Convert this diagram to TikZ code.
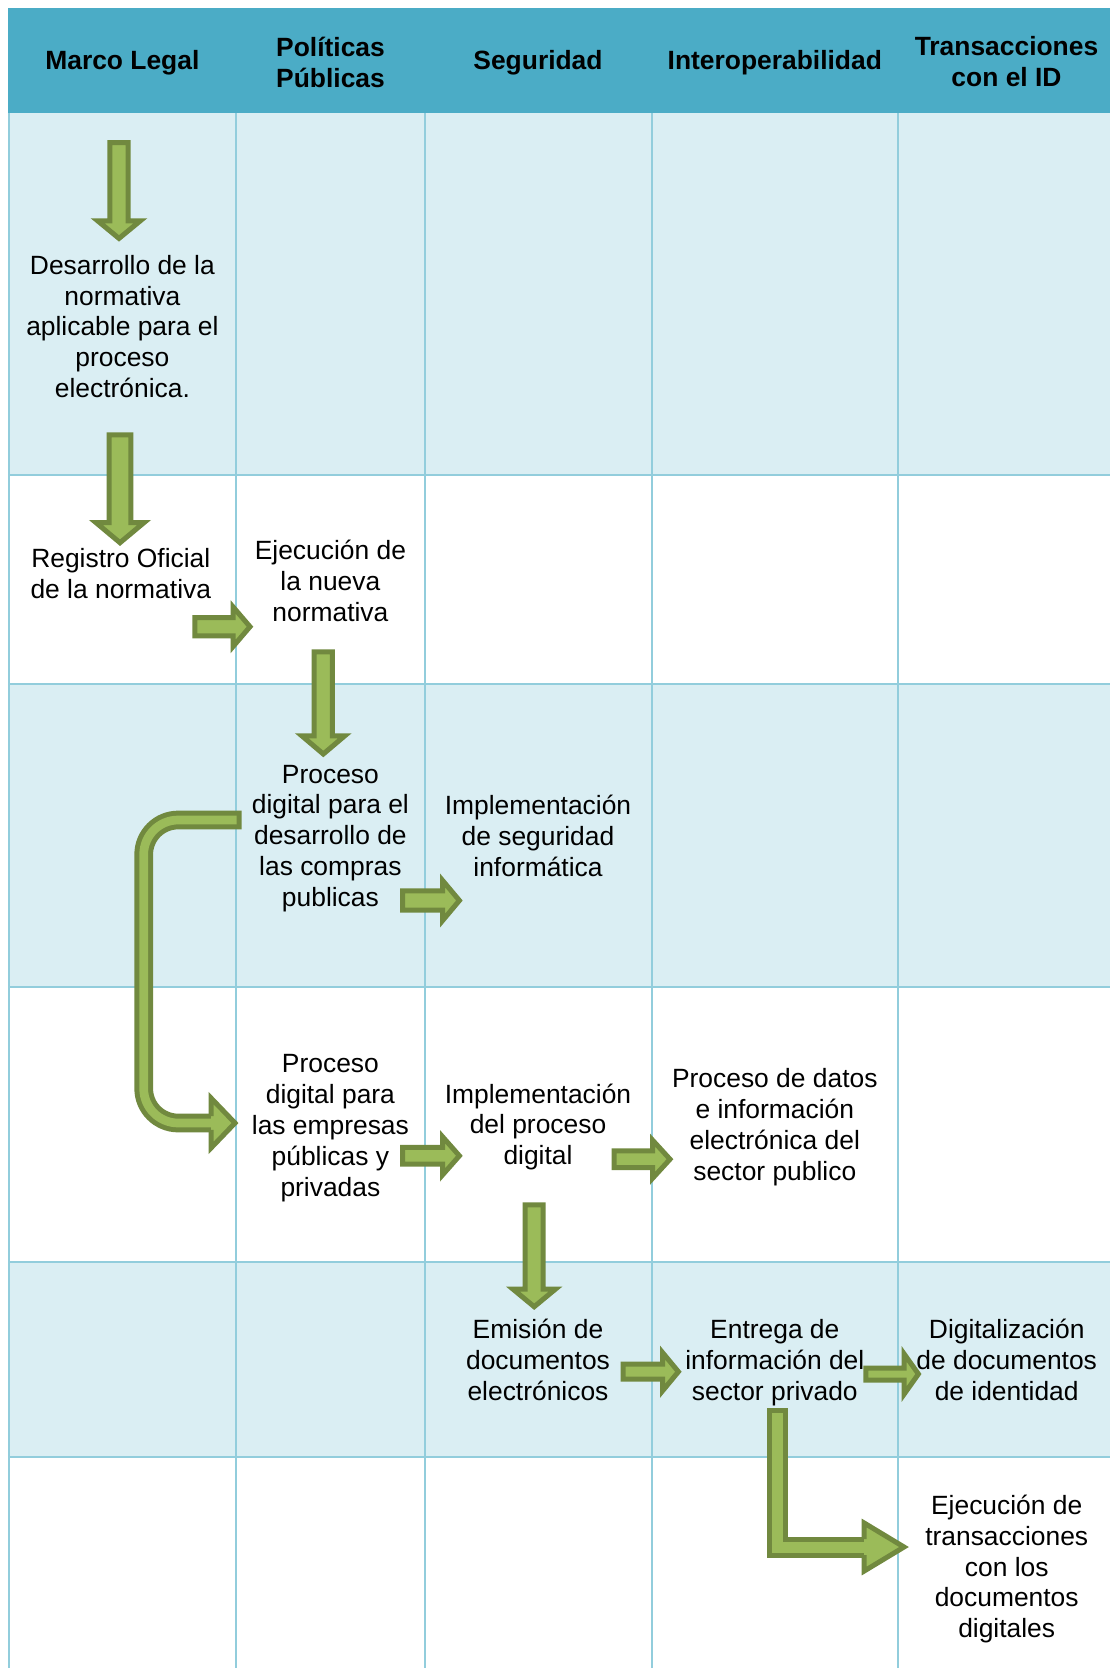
\documentclass[tikz,border=0pt]{standalone}
\usepackage{fontspec}
\setmainfont{Liberation Sans}

\definecolor{headfill}{HTML}{4BACC6}
\definecolor{rowfill}{HTML}{DAEEF3}
\definecolor{gridline}{HTML}{92CDDC}
\definecolor{arrowfill}{HTML}{9BBB59}
\definecolor{arrowline}{HTML}{71893F}

% block arrows: centre line, start, tip, shaft width, head width, head length
\newcommand\blockdown[6]{%
  \filldraw[blk] ({#1-#4/2},#2) -- ({#1-#4/2},{#3-#6}) -- ({#1-#5/2},{#3-#6})
    -- (#1,#3) -- ({#1+#5/2},{#3-#6}) -- ({#1+#4/2},{#3-#6}) -- ({#1+#4/2},#2) -- cycle;}
\newcommand\blockright[6]{%
  \filldraw[blk] (#2,{#1-#4/2}) -- ({#3-#6},{#1-#4/2}) -- ({#3-#6},{#1-#5/2})
    -- (#3,#1) -- ({#3-#6},{#1+#5/2}) -- ({#3-#6},{#1+#4/2}) -- (#2,{#1+#4/2}) -- cycle;}

\begin{document}
\begin{tikzpicture}[x=1pt,y=-1pt,
  lane/.style={font=\fontsize{26.4}{30.9}\selectfont, align=center, inner sep=0pt, text=black},
  headtext/.style={lane, font=\fontsize{26.4}{30.9}\selectfont\bfseries},
  blk/.style={fill=arrowfill, draw=arrowline, line width=5pt, line join=miter},
  gridl/.style={draw=gridline, line width=2pt}]

\useasboundingbox (0,0) rectangle (1110,1668);
\fill[white] (0,0) rectangle (1110,1668);

% header band and shaded rows
\fill[headfill] (8,8) rectangle (1110,113);
\fill[rowfill] (8,113) rectangle (1110,474.6);
\fill[rowfill] (8,684.3) rectangle (1110,986.5);
\fill[rowfill] (8,1262) rectangle (1110,1457);

% lane grid
\foreach \x in {8.5,236.3,424.8,651.5,898}
  \draw[gridl] (\x,113) -- (\x,1668);
\foreach \y in {474.6,684.3,986.5,1262,1457}
  \draw[gridl] (8,\y) -- (1110,\y);

% lane titles
\node[headtext] (h1) at (122.4,62.5) {Marco Legal};
\node[headtext] (h2) at (330.5,62) {Políticas\\Públicas};
\node[headtext] (h3) at (538,62.5) {Seguridad};
\node[headtext] (h4) at (774.8,62.5) {Interoperabilidad};
\node[headtext] (h5) at (1006.5,62) {Transacciones\\con el ID};

% process steps
\node[lane] (n1) at (122.4,326.5) {Desarrollo de la\\normativa\\aplicable para el\\proceso\\electrónica.};
\node[lane] (n2) at (120.8,573.5) {Registro Oficial\\de la normativa};
\node[lane] (n3) at (330.4,581) {Ejecución de\\la nueva\\normativa};
\node[lane] (n4) at (330.4,838.5) {Proceso\\digital para el\\desarrollo de\\las compras\\publicas};
\node[lane] (n5) at (538,835.5) {Implementación\\de seguridad\\informática};
\node[lane] (n6) at (330.4,1128) {Proceso\\digital para\\las empresas\\públicas y\\privadas};
\node[lane] (n7) at (538,1127) {Implementación\\del proceso\\digital};
\node[lane] (n8) at (774.8,1127.3) {Proceso de datos\\e información\\electrónica del\\sector publico};
\node[lane] (n9) at (538,1360) {Emisión de\\documentos\\electrónicos};
\node[lane] (n10) at (774.8,1363) {Entrega de\\información del\\sector privado};
\node[lane] (n11) at (1006.7,1360) {Digitalización\\de documentos\\de identidad};
\node[lane] (n12) at (1006.7,1569) {Ejecución de\\transacciones\\con los\\documentos\\digitales};

% straight block arrows
\blockdown{119}{142.5}{238.4}{18.3}{42.7}{17.6}
\blockdown{120}{434.8}{542.7}{21.7}{48.3}{20.2}
\blockdown{323.3}{651.8}{754}{18.3}{43}{18.2}
\blockdown{534.2}{1204.8}{1306.7}{18}{42.3}{17.5}
\blockright{626.7}{194.8}{250}{18.3}{39.3}{16.8}
\blockright{900.5}{402.5}{459.4}{19.3}{40.3}{16.9}
\blockright{1155.8}{402.5}{459.4}{16.7}{38.3}{16.9}
\blockright{1159.2}{614.2}{670}{16.7}{38.3}{17.5}
\blockright{1371.7}{623.2}{678.4}{15}{38.4}{15.9}
\blockright{1374}{865.8}{918.4}{12}{40}{14.2}

% rounded return arrow between the two process lanes
\draw[line width=18.7pt, arrowline, rounded corners=34.5pt]
  (241.5,820) -- (143.7,820) -- (143.7,1123) -- (211,1123);
\draw[line width=8.7pt, arrowfill, rounded corners=34.5pt]
  (236.5,820) -- (143.7,820) -- (143.7,1123) -- (211,1123);
\filldraw[blk] (211,1116.15) -- (211,1098) -- (235,1123) -- (211,1148) -- (211,1129.85);

% elbow arrow to the final transactions step
\draw[line width=21pt, arrowline, line join=miter]
  (777.8,1408.3) -- (777.8,1547) -- (864.2,1547);
\draw[line width=11pt, arrowfill, line join=miter]
  (777.8,1413.3) -- (777.8,1547) -- (864.2,1547);
\filldraw[blk] (864.2,1539) -- (864.2,1523) -- (904,1547) -- (864.2,1571) -- (864.2,1555);

\end{tikzpicture}
\end{document}
